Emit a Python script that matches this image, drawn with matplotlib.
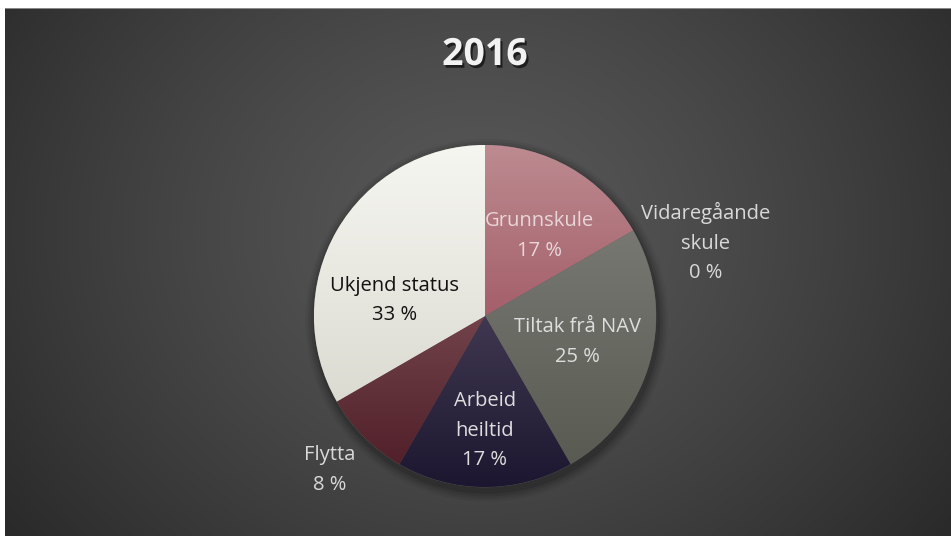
import numpy as np
import matplotlib
matplotlib.use("Agg")
import matplotlib.pyplot as plt
import matplotlib.patheffects as pe
from matplotlib.colors import LinearSegmentedColormap
from matplotlib.patches import Circle

# ---- data ----
title = "2016"
categories = ["Grunnskule", "Vidaregåande skule", "Tiltak frå NAV",
              "Arbeid heiltid", "Flytta", "Ukjend status"]
label_texts = ["Grunnskule", "Vidaregåande\nskule", "Tiltak frå NAV",
               "Arbeid\nheiltid", "Flytta", "Ukjend status"]
values = [2, 0, 3, 2, 1, 4]

# ---- style ----
top_colors = ["#bd8b91", "#8a8a86", "#777872", "#403850", "#72434b", "#f6f6f1"]
bot_colors = ["#a45f6a", "#8a8a86", "#595a51", "#1c1630", "#51202a", "#dcdbd2"]
text_colors = ["#e8d6d8", "#d9d9d9", "#dedede", "#dedede", "#d9d9d9", "#111111"]
# label centres in pie-radius units (dx, dy)
label_pos = [(0.32, 0.47), (1.29, 0.43), (0.54, -0.15), (0.0, -0.67), (-0.91, -0.90), (-0.53, 0.09)]

W, H, DPI = 951, 536, 100
fig = plt.figure(figsize=(W / DPI, H / DPI), dpi=DPI, facecolor="white")

# background panel with radial gradient
bg = fig.add_axes([5 / W, 0, 946 / W, 528 / H])
bg.set_axis_off()
ny, nx = 264, 473
yy, xx = np.mgrid[0:ny, 0:nx]
cx, cy = nx * 0.50, ny * 0.42
d = np.sqrt(((xx - cx) / (nx * 0.62)) ** 2 + ((yy - cy) / (ny * 0.95)) ** 2)
d = np.clip(d, 0, 1)
c_in, c_out = np.array([0.345, 0.345, 0.345]), np.array([0.165, 0.165, 0.165])
img = c_in[None, None, :] * (1 - d[..., None] ** 1.3) + c_out[None, None, :] * (d[..., None] ** 1.3)
bg.imshow(img, extent=[0, 1, 0, 1], aspect="auto", origin="upper")
bg.set_xlim(0, 1)
bg.set_ylim(0, 1)
bg.axhline(1.0, color="#9a9a9a", lw=1.2)

# pie axes: centre (485,316) px, radius 171 px; axes spans 1.5 radii each way
R = 171
S = 1.5
ax = fig.add_axes([(485 - S * R) / W, (H - 316 - S * R) / H, 2 * S * R / W, 2 * S * R / H])
ax.set_axis_off()

# soft shadow
for rr, a in [(1.06, 0.05), (1.045, 0.07), (1.03, 0.09), (1.015, 0.12)]:
    ax.add_patch(Circle((0.01, -0.025), rr, color="black", alpha=a, lw=0, zorder=1))

wedges, _ = ax.pie(values, startangle=90, counterclock=False, radius=1,
                   colors=top_colors, wedgeprops=dict(linewidth=0.4, edgecolor="#555555"))
for w, ct, cb in zip(wedges, top_colors, bot_colors):
    w.set_zorder(2)
    v = w.get_path().vertices
    if len(v) == 0:
        continue
    y0, y1 = v[:, 1].min(), v[:, 1].max()
    x0, x1 = v[:, 0].min(), v[:, 0].max()
    if y1 - y0 < 1e-6:
        continue
    cmap = LinearSegmentedColormap.from_list("g", [cb, ct])
    grad = np.linspace(0, 1, 256).reshape(-1, 1)
    im = ax.imshow(grad, extent=[x0, x1, y0, y1], origin="lower", cmap=cmap,
                   aspect="auto", zorder=3, interpolation="bilinear")
    im.set_clip_path(w)
ax.set_xlim(-S, S)
ax.set_ylim(-S, S)

font = "Open Sans"
total = sum(values)
for txt, v, (lx, ly), tc in zip(label_texts, values, label_pos, text_colors):
    pct = f"{round(100 * v / total)} %"
    ax.text(lx, ly, f"{txt}\n{pct}", ha="center", va="center", fontsize=14.5,
            family=font, color=tc, linespacing=1.65, zorder=5)

fig.text(485 / W, 1 - 55 / H, title, ha="center", va="center", fontsize=27,
         fontweight="bold", family=font, color="#f2f2f2",
         path_effects=[pe.withSimplePatchShadow(offset=(1.5, -2), shadow_rgbFace="black", alpha=0.6)])

fig.savefig("out.png", dpi=DPI, facecolor="white")
